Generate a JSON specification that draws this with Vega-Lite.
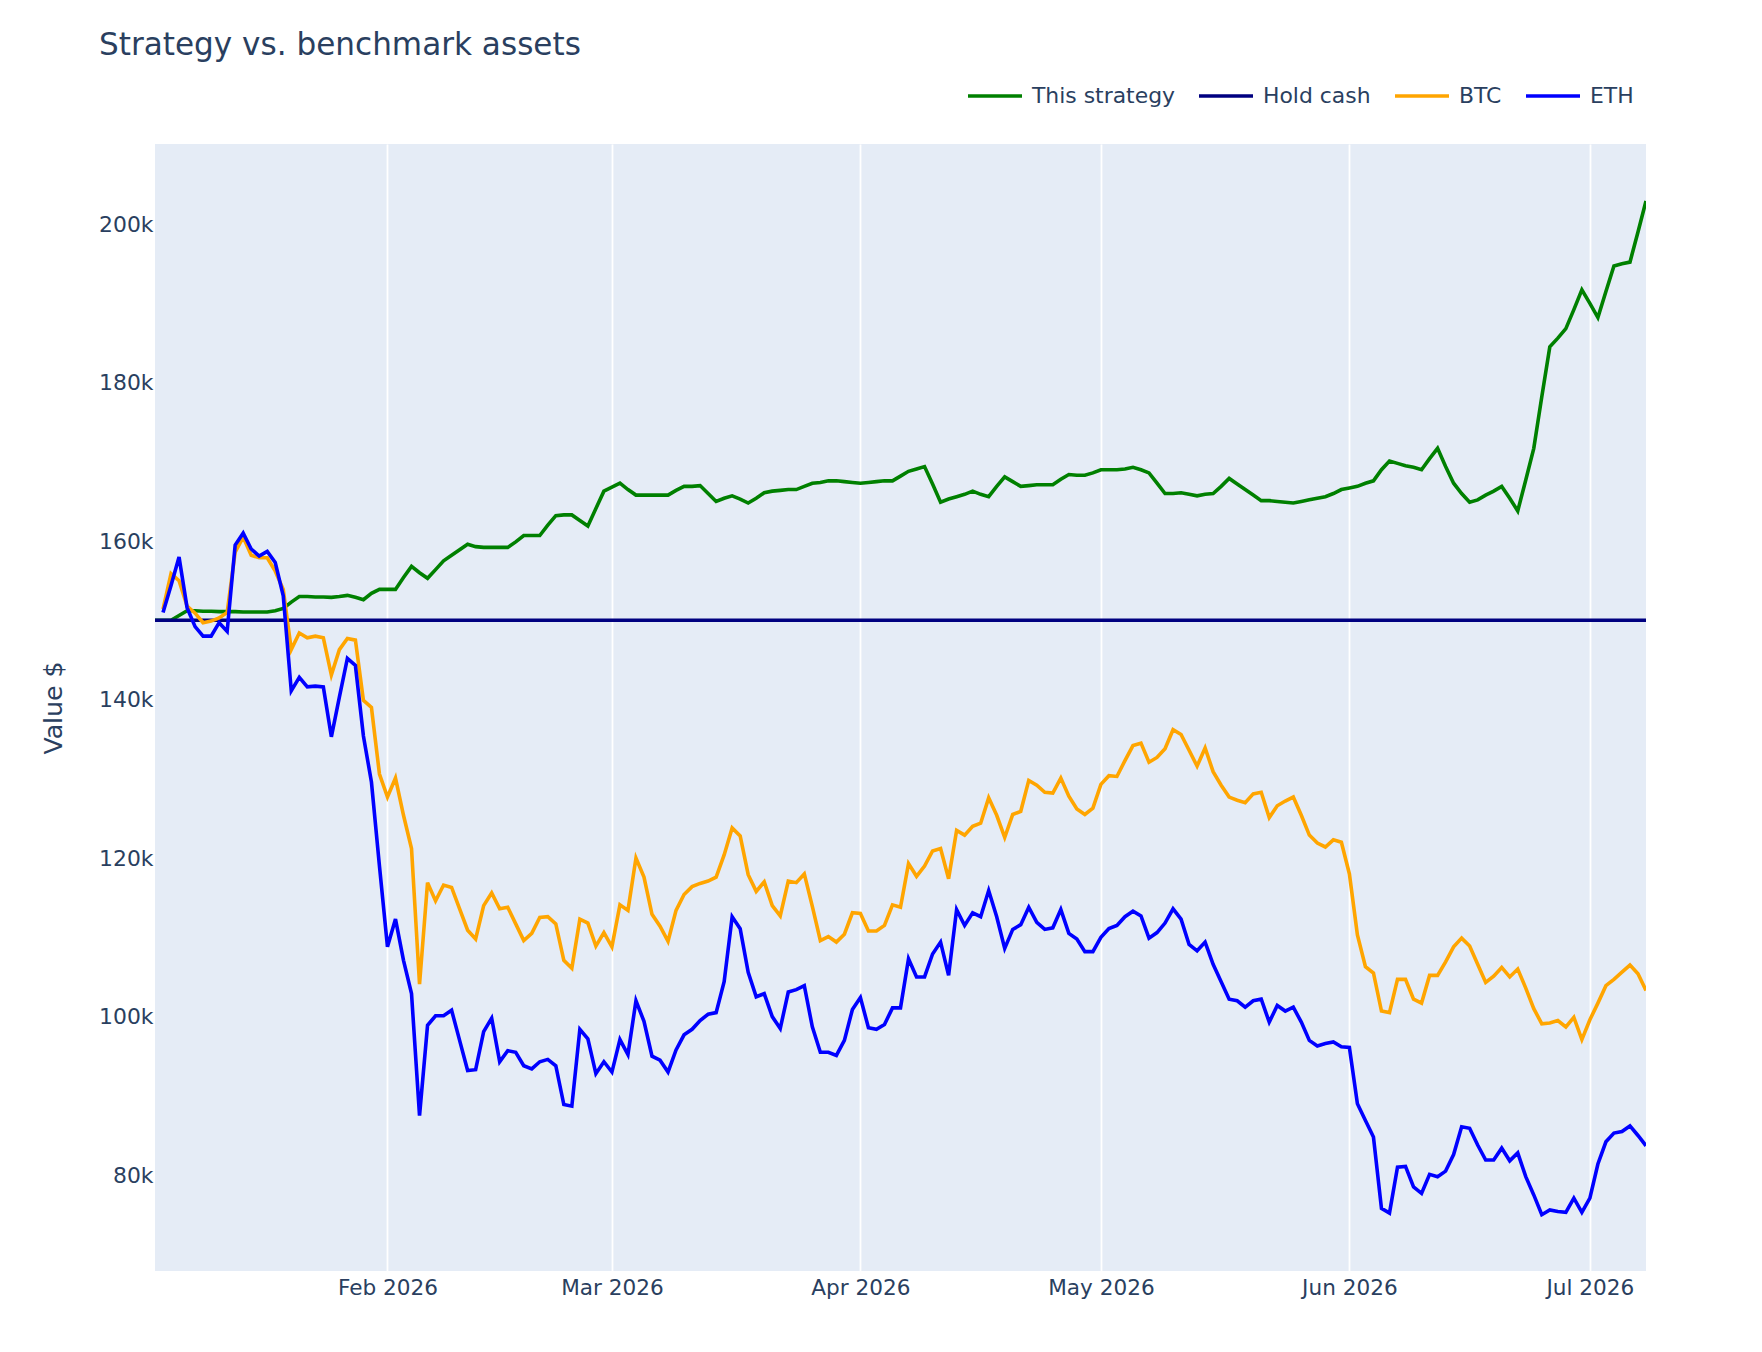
{
  "$schema": "https://vega.github.io/schema/vega-lite/v6.json",
  "width": 1491,
  "height": 1127,
  "autosize": {"type": "none"},
  "padding": {"left": 155, "top": 144, "right": 116, "bottom": 81},
  "background": "white",
  "title": {
    "text": "Strategy vs. benchmark assets",
    "anchor": "start",
    "frame": "group",
    "font": "DejaVu Sans",
    "fontSize": 31.1,
    "fontWeight": "normal",
    "color": "#2a3f5f",
    "dx": -56,
    "offset": 6
  },
  "data": {
    "values": [
      {"date": "2026-01-03", "This strategy": 150000, "Hold cash": 150000},
      {"date": "2026-01-04", "This strategy": 150000, "Hold cash": 150000, "BTC": 151400, "ETH": 151000},
      {"date": "2026-01-05", "This strategy": 150000, "Hold cash": 150000, "BTC": 155900, "ETH": 154400},
      {"date": "2026-01-06", "This strategy": 150600, "Hold cash": 150000, "BTC": 155000, "ETH": 158000},
      {"date": "2026-01-07", "This strategy": 151200, "Hold cash": 150000, "BTC": 151800, "ETH": 151600},
      {"date": "2026-01-08", "This strategy": 151200, "Hold cash": 150000, "BTC": 150900, "ETH": 149200},
      {"date": "2026-01-09", "This strategy": 151150, "Hold cash": 150000, "BTC": 149700, "ETH": 148000},
      {"date": "2026-01-10", "This strategy": 151150, "Hold cash": 150000, "BTC": 149900, "ETH": 148000},
      {"date": "2026-01-11", "This strategy": 151100, "Hold cash": 150000, "BTC": 150300, "ETH": 149700},
      {"date": "2026-01-12", "This strategy": 151100, "Hold cash": 150000, "BTC": 151000, "ETH": 148600},
      {"date": "2026-01-13", "This strategy": 151100, "Hold cash": 150000, "BTC": 158600, "ETH": 159500},
      {"date": "2026-01-14", "This strategy": 151050, "Hold cash": 150000, "BTC": 160500, "ETH": 161000},
      {"date": "2026-01-15", "This strategy": 151050, "Hold cash": 150000, "BTC": 158200, "ETH": 159000},
      {"date": "2026-01-16", "This strategy": 151050, "Hold cash": 150000, "BTC": 157900, "ETH": 158100},
      {"date": "2026-01-17", "This strategy": 151050, "Hold cash": 150000, "BTC": 157900, "ETH": 158700},
      {"date": "2026-01-18", "This strategy": 151200, "Hold cash": 150000, "BTC": 156200, "ETH": 157300},
      {"date": "2026-01-19", "This strategy": 151500, "Hold cash": 150000, "BTC": 153900, "ETH": 153100},
      {"date": "2026-01-20", "This strategy": 152300, "Hold cash": 150000, "BTC": 146300, "ETH": 141100},
      {"date": "2026-01-21", "This strategy": 153000, "Hold cash": 150000, "BTC": 148400, "ETH": 142800},
      {"date": "2026-01-22", "This strategy": 153000, "Hold cash": 150000, "BTC": 147800, "ETH": 141600},
      {"date": "2026-01-23", "This strategy": 152950, "Hold cash": 150000, "BTC": 148000, "ETH": 141700},
      {"date": "2026-01-24", "This strategy": 152950, "Hold cash": 150000, "BTC": 147800, "ETH": 141600},
      {"date": "2026-01-25", "This strategy": 152900, "Hold cash": 150000, "BTC": 143100, "ETH": 135300},
      {"date": "2026-01-26", "This strategy": 153000, "Hold cash": 150000, "BTC": 146300, "ETH": 140300},
      {"date": "2026-01-27", "This strategy": 153150, "Hold cash": 150000, "BTC": 147700, "ETH": 145200},
      {"date": "2026-01-28", "This strategy": 152900, "Hold cash": 150000, "BTC": 147500, "ETH": 144300},
      {"date": "2026-01-29", "This strategy": 152600, "Hold cash": 150000, "BTC": 139900, "ETH": 135400},
      {"date": "2026-01-30", "This strategy": 153400, "Hold cash": 150000, "BTC": 139000, "ETH": 129600},
      {"date": "2026-01-31", "This strategy": 153900, "Hold cash": 150000, "BTC": 130600, "ETH": 119000},
      {"date": "2026-02-01", "This strategy": 153900, "Hold cash": 150000, "BTC": 127700, "ETH": 108800},
      {"date": "2026-02-02", "This strategy": 153900, "Hold cash": 150000, "BTC": 130100, "ETH": 112300},
      {"date": "2026-02-03", "This strategy": 155400, "Hold cash": 150000, "BTC": 125400, "ETH": 107100},
      {"date": "2026-02-04", "This strategy": 156800, "Hold cash": 150000, "BTC": 121200, "ETH": 102900},
      {"date": "2026-02-05", "This strategy": 156000, "Hold cash": 150000, "BTC": 104100, "ETH": 87500},
      {"date": "2026-02-06", "This strategy": 155300, "Hold cash": 150000, "BTC": 116900, "ETH": 98900},
      {"date": "2026-02-07", "This strategy": 156400, "Hold cash": 150000, "BTC": 114600, "ETH": 100100},
      {"date": "2026-02-08", "This strategy": 157500, "Hold cash": 150000, "BTC": 116600, "ETH": 100100},
      {"date": "2026-02-09", "This strategy": 158200, "Hold cash": 150000, "BTC": 116300, "ETH": 100800},
      {"date": "2026-02-10", "This strategy": 158900, "Hold cash": 150000, "BTC": 113600, "ETH": 97000},
      {"date": "2026-02-11", "This strategy": 159600, "Hold cash": 150000, "BTC": 110900, "ETH": 93200},
      {"date": "2026-02-12", "This strategy": 159300, "Hold cash": 150000, "BTC": 109800, "ETH": 93300},
      {"date": "2026-02-13", "This strategy": 159200, "Hold cash": 150000, "BTC": 114000, "ETH": 98100},
      {"date": "2026-02-14", "This strategy": 159200, "Hold cash": 150000, "BTC": 115600, "ETH": 99800},
      {"date": "2026-02-15", "This strategy": 159200, "Hold cash": 150000, "BTC": 113600, "ETH": 94300},
      {"date": "2026-02-16", "This strategy": 159200, "Hold cash": 150000, "BTC": 113800, "ETH": 95700},
      {"date": "2026-02-17", "This strategy": 159900, "Hold cash": 150000, "BTC": 111700, "ETH": 95500},
      {"date": "2026-02-18", "This strategy": 160700, "Hold cash": 150000, "BTC": 109600, "ETH": 93800},
      {"date": "2026-02-19", "This strategy": 160700, "Hold cash": 150000, "BTC": 110500, "ETH": 93400},
      {"date": "2026-02-20", "This strategy": 160700, "Hold cash": 150000, "BTC": 112500, "ETH": 94300},
      {"date": "2026-02-21", "This strategy": 162000, "Hold cash": 150000, "BTC": 112600, "ETH": 94600},
      {"date": "2026-02-22", "This strategy": 163200, "Hold cash": 150000, "BTC": 111700, "ETH": 93800},
      {"date": "2026-02-23", "This strategy": 163300, "Hold cash": 150000, "BTC": 107100, "ETH": 88900},
      {"date": "2026-02-24", "This strategy": 163300, "Hold cash": 150000, "BTC": 106100, "ETH": 88700},
      {"date": "2026-02-25", "This strategy": 162600, "Hold cash": 150000, "BTC": 112300, "ETH": 98400},
      {"date": "2026-02-26", "This strategy": 161900, "Hold cash": 150000, "BTC": 111800, "ETH": 97200},
      {"date": "2026-02-27", "This strategy": 164100, "Hold cash": 150000, "BTC": 108900, "ETH": 92800},
      {"date": "2026-02-28", "This strategy": 166300, "Hold cash": 150000, "BTC": 110600, "ETH": 94300},
      {"date": "2026-03-01", "This strategy": 166800, "Hold cash": 150000, "BTC": 108800, "ETH": 93000},
      {"date": "2026-03-02", "This strategy": 167300, "Hold cash": 150000, "BTC": 114100, "ETH": 97100},
      {"date": "2026-03-03", "This strategy": 166500, "Hold cash": 150000, "BTC": 113400, "ETH": 95200},
      {"date": "2026-03-04", "This strategy": 165800, "Hold cash": 150000, "BTC": 120000, "ETH": 102000},
      {"date": "2026-03-05", "This strategy": 165800, "Hold cash": 150000, "BTC": 117600, "ETH": 99400},
      {"date": "2026-03-06", "This strategy": 165800, "Hold cash": 150000, "BTC": 112900, "ETH": 95000},
      {"date": "2026-03-07", "This strategy": 165800, "Hold cash": 150000, "BTC": 111400, "ETH": 94500},
      {"date": "2026-03-08", "This strategy": 165800, "Hold cash": 150000, "BTC": 109500, "ETH": 93000},
      {"date": "2026-03-09", "This strategy": 166400, "Hold cash": 150000, "BTC": 113400, "ETH": 95800},
      {"date": "2026-03-10", "This strategy": 166900, "Hold cash": 150000, "BTC": 115400, "ETH": 97700},
      {"date": "2026-03-11", "This strategy": 166900, "Hold cash": 150000, "BTC": 116400, "ETH": 98400},
      {"date": "2026-03-12", "This strategy": 167000, "Hold cash": 150000, "BTC": 116800, "ETH": 99500},
      {"date": "2026-03-13", "This strategy": 166000, "Hold cash": 150000, "BTC": 117100, "ETH": 100300},
      {"date": "2026-03-14", "This strategy": 165000, "Hold cash": 150000, "BTC": 117600, "ETH": 100500},
      {"date": "2026-03-15", "This strategy": 165400, "Hold cash": 150000, "BTC": 120400, "ETH": 104400},
      {"date": "2026-03-16", "This strategy": 165700, "Hold cash": 150000, "BTC": 123800, "ETH": 112600},
      {"date": "2026-03-17", "This strategy": 165300, "Hold cash": 150000, "BTC": 122800, "ETH": 111100},
      {"date": "2026-03-18", "This strategy": 164800, "Hold cash": 150000, "BTC": 117900, "ETH": 105600},
      {"date": "2026-03-19", "This strategy": 165400, "Hold cash": 150000, "BTC": 115800, "ETH": 102500},
      {"date": "2026-03-20", "This strategy": 166100, "Hold cash": 150000, "BTC": 117000, "ETH": 102900},
      {"date": "2026-03-21", "This strategy": 166300, "Hold cash": 150000, "BTC": 114000, "ETH": 100000},
      {"date": "2026-03-22", "This strategy": 166400, "Hold cash": 150000, "BTC": 112700, "ETH": 98500},
      {"date": "2026-03-23", "This strategy": 166500, "Hold cash": 150000, "BTC": 117100, "ETH": 103100},
      {"date": "2026-03-24", "This strategy": 166500, "Hold cash": 150000, "BTC": 116900, "ETH": 103400},
      {"date": "2026-03-25", "This strategy": 166900, "Hold cash": 150000, "BTC": 118000, "ETH": 103900},
      {"date": "2026-03-26", "This strategy": 167300, "Hold cash": 150000, "BTC": 113900, "ETH": 98700},
      {"date": "2026-03-27", "This strategy": 167400, "Hold cash": 150000, "BTC": 109600, "ETH": 95500},
      {"date": "2026-03-28", "This strategy": 167600, "Hold cash": 150000, "BTC": 110100, "ETH": 95500},
      {"date": "2026-03-29", "This strategy": 167600, "Hold cash": 150000, "BTC": 109400, "ETH": 95100},
      {"date": "2026-03-30", "This strategy": 167500, "Hold cash": 150000, "BTC": 110400, "ETH": 97000},
      {"date": "2026-03-31", "This strategy": 167400, "Hold cash": 150000, "BTC": 113100, "ETH": 100900},
      {"date": "2026-04-01", "This strategy": 167300, "Hold cash": 150000, "BTC": 113000, "ETH": 102400},
      {"date": "2026-04-02", "This strategy": 167400, "Hold cash": 150000, "BTC": 110800, "ETH": 98600},
      {"date": "2026-04-03", "This strategy": 167500, "Hold cash": 150000, "BTC": 110800, "ETH": 98400},
      {"date": "2026-04-04", "This strategy": 167600, "Hold cash": 150000, "BTC": 111500, "ETH": 99000},
      {"date": "2026-04-05", "This strategy": 167600, "Hold cash": 150000, "BTC": 114100, "ETH": 101100},
      {"date": "2026-04-06", "This strategy": 168200, "Hold cash": 150000, "BTC": 113800, "ETH": 101100},
      {"date": "2026-04-07", "This strategy": 168800, "Hold cash": 150000, "BTC": 119300, "ETH": 107300},
      {"date": "2026-04-08", "This strategy": 169100, "Hold cash": 150000, "BTC": 117700, "ETH": 105000},
      {"date": "2026-04-09", "This strategy": 169400, "Hold cash": 150000, "BTC": 119000, "ETH": 105000},
      {"date": "2026-04-10", "This strategy": 167200, "Hold cash": 150000, "BTC": 120900, "ETH": 107900},
      {"date": "2026-04-11", "This strategy": 164900, "Hold cash": 150000, "BTC": 121200, "ETH": 109400},
      {"date": "2026-04-12", "This strategy": 165300, "Hold cash": 150000, "BTC": 117400, "ETH": 105200},
      {"date": "2026-04-13", "This strategy": 165600, "Hold cash": 150000, "BTC": 123500, "ETH": 113500},
      {"date": "2026-04-14", "This strategy": 165900, "Hold cash": 150000, "BTC": 122900, "ETH": 111500},
      {"date": "2026-04-15", "This strategy": 166300, "Hold cash": 150000, "BTC": 124000, "ETH": 113100},
      {"date": "2026-04-16", "This strategy": 165900, "Hold cash": 150000, "BTC": 124400, "ETH": 112600},
      {"date": "2026-04-17", "This strategy": 165600, "Hold cash": 150000, "BTC": 127600, "ETH": 115900},
      {"date": "2026-04-18", "This strategy": 166900, "Hold cash": 150000, "BTC": 125400, "ETH": 112600},
      {"date": "2026-04-19", "This strategy": 168100, "Hold cash": 150000, "BTC": 122600, "ETH": 108600},
      {"date": "2026-04-20", "This strategy": 167500, "Hold cash": 150000, "BTC": 125500, "ETH": 111000},
      {"date": "2026-04-21", "This strategy": 166900, "Hold cash": 150000, "BTC": 125900, "ETH": 111600},
      {"date": "2026-04-22", "This strategy": 167000, "Hold cash": 150000, "BTC": 129800, "ETH": 113800},
      {"date": "2026-04-23", "This strategy": 167100, "Hold cash": 150000, "BTC": 129200, "ETH": 111900},
      {"date": "2026-04-24", "This strategy": 167100, "Hold cash": 150000, "BTC": 128300, "ETH": 111000},
      {"date": "2026-04-25", "This strategy": 167100, "Hold cash": 150000, "BTC": 128200, "ETH": 111200},
      {"date": "2026-04-26", "This strategy": 167800, "Hold cash": 150000, "BTC": 130100, "ETH": 113500},
      {"date": "2026-04-27", "This strategy": 168400, "Hold cash": 150000, "BTC": 127800, "ETH": 110500},
      {"date": "2026-04-28", "This strategy": 168300, "Hold cash": 150000, "BTC": 126200, "ETH": 109800},
      {"date": "2026-04-29", "This strategy": 168300, "Hold cash": 150000, "BTC": 125500, "ETH": 108200},
      {"date": "2026-04-30", "This strategy": 168600, "Hold cash": 150000, "BTC": 126300, "ETH": 108200},
      {"date": "2026-05-01", "This strategy": 169000, "Hold cash": 150000, "BTC": 129300, "ETH": 110000},
      {"date": "2026-05-02", "This strategy": 169000, "Hold cash": 150000, "BTC": 130400, "ETH": 111100},
      {"date": "2026-05-03", "This strategy": 169000, "Hold cash": 150000, "BTC": 130300, "ETH": 111500},
      {"date": "2026-05-04", "This strategy": 169100, "Hold cash": 150000, "BTC": 132300, "ETH": 112600},
      {"date": "2026-05-05", "This strategy": 169300, "Hold cash": 150000, "BTC": 134200, "ETH": 113300},
      {"date": "2026-05-06", "This strategy": 169000, "Hold cash": 150000, "BTC": 134500, "ETH": 112700},
      {"date": "2026-05-07", "This strategy": 168600, "Hold cash": 150000, "BTC": 132100, "ETH": 109900},
      {"date": "2026-05-08", "This strategy": 167300, "Hold cash": 150000, "BTC": 132700, "ETH": 110600},
      {"date": "2026-05-09", "This strategy": 166000, "Hold cash": 150000, "BTC": 133800, "ETH": 111800},
      {"date": "2026-05-10", "This strategy": 166000, "Hold cash": 150000, "BTC": 136200, "ETH": 113600},
      {"date": "2026-05-11", "This strategy": 166100, "Hold cash": 150000, "BTC": 135600, "ETH": 112300},
      {"date": "2026-05-12", "This strategy": 165900, "Hold cash": 150000, "BTC": 133600, "ETH": 109100},
      {"date": "2026-05-13", "This strategy": 165700, "Hold cash": 150000, "BTC": 131600, "ETH": 108300},
      {"date": "2026-05-14", "This strategy": 165900, "Hold cash": 150000, "BTC": 133900, "ETH": 109400},
      {"date": "2026-05-15", "This strategy": 166000, "Hold cash": 150000, "BTC": 130900, "ETH": 106600},
      {"date": "2026-05-16", "This strategy": 166900, "Hold cash": 150000, "BTC": 129200, "ETH": 104400},
      {"date": "2026-05-17", "This strategy": 167900, "Hold cash": 150000, "BTC": 127700, "ETH": 102200},
      {"date": "2026-05-18", "This strategy": 167200, "Hold cash": 150000, "BTC": 127300, "ETH": 102000},
      {"date": "2026-05-19", "This strategy": 166500, "Hold cash": 150000, "BTC": 127000, "ETH": 101200},
      {"date": "2026-05-20", "This strategy": 165800, "Hold cash": 150000, "BTC": 128100, "ETH": 102000},
      {"date": "2026-05-21", "This strategy": 165100, "Hold cash": 150000, "BTC": 128300, "ETH": 102200},
      {"date": "2026-05-22", "This strategy": 165100, "Hold cash": 150000, "BTC": 125100, "ETH": 99300},
      {"date": "2026-05-23", "This strategy": 165000, "Hold cash": 150000, "BTC": 126600, "ETH": 101400},
      {"date": "2026-05-24", "This strategy": 164900, "Hold cash": 150000, "BTC": 127200, "ETH": 100700},
      {"date": "2026-05-25", "This strategy": 164800, "Hold cash": 150000, "BTC": 127700, "ETH": 101200},
      {"date": "2026-05-26", "This strategy": 165000, "Hold cash": 150000, "BTC": 125400, "ETH": 99300},
      {"date": "2026-05-27", "This strategy": 165200, "Hold cash": 150000, "BTC": 122900, "ETH": 97000},
      {"date": "2026-05-28", "This strategy": 165400, "Hold cash": 150000, "BTC": 121900, "ETH": 96300},
      {"date": "2026-05-29", "This strategy": 165600, "Hold cash": 150000, "BTC": 121400, "ETH": 96600},
      {"date": "2026-05-30", "This strategy": 166000, "Hold cash": 150000, "BTC": 122300, "ETH": 96800},
      {"date": "2026-05-31", "This strategy": 166500, "Hold cash": 150000, "BTC": 122000, "ETH": 96200},
      {"date": "2026-06-01", "This strategy": 166700, "Hold cash": 150000, "BTC": 118000, "ETH": 96100},
      {"date": "2026-06-02", "This strategy": 166900, "Hold cash": 150000, "BTC": 110300, "ETH": 89000},
      {"date": "2026-06-03", "This strategy": 167300, "Hold cash": 150000, "BTC": 106300, "ETH": 86900},
      {"date": "2026-06-04", "This strategy": 167600, "Hold cash": 150000, "BTC": 105500, "ETH": 84800},
      {"date": "2026-06-05", "This strategy": 169000, "Hold cash": 150000, "BTC": 100700, "ETH": 75800},
      {"date": "2026-06-06", "This strategy": 170100, "Hold cash": 150000, "BTC": 100500, "ETH": 75200},
      {"date": "2026-06-07", "This strategy": 169800, "Hold cash": 150000, "BTC": 104700, "ETH": 81000},
      {"date": "2026-06-08", "This strategy": 169500, "Hold cash": 150000, "BTC": 104700, "ETH": 81100},
      {"date": "2026-06-09", "This strategy": 169300, "Hold cash": 150000, "BTC": 102200, "ETH": 78500},
      {"date": "2026-06-10", "This strategy": 169000, "Hold cash": 150000, "BTC": 101700, "ETH": 77700},
      {"date": "2026-06-11", "This strategy": 170400, "Hold cash": 150000, "BTC": 105200, "ETH": 80100},
      {"date": "2026-06-12", "This strategy": 171700, "Hold cash": 150000, "BTC": 105200, "ETH": 79800},
      {"date": "2026-06-13", "This strategy": 169400, "Hold cash": 150000, "BTC": 106900, "ETH": 80500},
      {"date": "2026-06-14", "This strategy": 167300, "Hold cash": 150000, "BTC": 108800, "ETH": 82600},
      {"date": "2026-06-15", "This strategy": 166000, "Hold cash": 150000, "BTC": 109900, "ETH": 86100},
      {"date": "2026-06-16", "This strategy": 164900, "Hold cash": 150000, "BTC": 108900, "ETH": 85900},
      {"date": "2026-06-17", "This strategy": 165200, "Hold cash": 150000, "BTC": 106600, "ETH": 83800},
      {"date": "2026-06-18", "This strategy": 165800, "Hold cash": 150000, "BTC": 104300, "ETH": 81900},
      {"date": "2026-06-19", "This strategy": 166300, "Hold cash": 150000, "BTC": 105100, "ETH": 81900},
      {"date": "2026-06-20", "This strategy": 166900, "Hold cash": 150000, "BTC": 106200, "ETH": 83400},
      {"date": "2026-06-21", "This strategy": 165400, "Hold cash": 150000, "BTC": 105000, "ETH": 81800},
      {"date": "2026-06-22", "This strategy": 163800, "Hold cash": 150000, "BTC": 106000, "ETH": 82800},
      {"date": "2026-06-23", "This strategy": 167700, "Hold cash": 150000, "BTC": 103600, "ETH": 79800},
      {"date": "2026-06-24", "This strategy": 171700, "Hold cash": 150000, "BTC": 101000, "ETH": 77500},
      {"date": "2026-06-25", "This strategy": 178200, "Hold cash": 150000, "BTC": 99100, "ETH": 75000},
      {"date": "2026-06-26", "This strategy": 184500, "Hold cash": 150000, "BTC": 99200, "ETH": 75600},
      {"date": "2026-06-27", "This strategy": 185600, "Hold cash": 150000, "BTC": 99500, "ETH": 75400},
      {"date": "2026-06-28", "This strategy": 186800, "Hold cash": 150000, "BTC": 98700, "ETH": 75300},
      {"date": "2026-06-29", "This strategy": 189200, "Hold cash": 150000, "BTC": 99900, "ETH": 77100},
      {"date": "2026-06-30", "This strategy": 191700, "Hold cash": 150000, "BTC": 97100, "ETH": 75300},
      {"date": "2026-07-01", "This strategy": 190000, "Hold cash": 150000, "BTC": 99600, "ETH": 77100},
      {"date": "2026-07-02", "This strategy": 188200, "Hold cash": 150000, "BTC": 101700, "ETH": 81400},
      {"date": "2026-07-03", "This strategy": 191500, "Hold cash": 150000, "BTC": 103900, "ETH": 84200},
      {"date": "2026-07-04", "This strategy": 194700, "Hold cash": 150000, "BTC": 104700, "ETH": 85300},
      {"date": "2026-07-05", "This strategy": 195000, "Hold cash": 150000, "BTC": 105600, "ETH": 85500},
      {"date": "2026-07-06", "This strategy": 195200, "Hold cash": 150000, "BTC": 106500, "ETH": 86200},
      {"date": "2026-07-07", "This strategy": 199000, "Hold cash": 150000, "BTC": 105400, "ETH": 85000},
      {"date": "2026-07-08", "This strategy": 202900, "Hold cash": 150000, "BTC": 103300, "ETH": 83700}
    ]
  },
  "transform": [
    {"fold": ["This strategy", "Hold cash", "BTC", "ETH"], "as": ["series", "value"]}
  ],
  "mark": {"type": "line", "strokeWidth": 3.6, "clip": true},
  "encoding": {
    "x": {
      "field": "date",
      "type": "temporal",
      "scale": {
        "domain": ["2026-01-03", "2026-07-08"],
        "nice": false
      },
      "axis": {
        "title": null,
        "format": "%b %Y",
        "tickCount": {"interval": "month", "step": 1},
        "grid": true,
        "gridColor": "white",
        "gridWidth": 1.8,
        "domain": false,
        "ticks": false,
        "labelFlush": false,
        "labelPadding": 6,
        "labelFont": "DejaVu Sans",
        "labelFontSize": 21.6,
        "labelColor": "#2a3f5f"
      }
    },
    "y": {
      "field": "value",
      "type": "quantitative",
      "scale": {"domain": [67900, 210100], "nice": false, "zero": false},
      "axis": {
        "title": "Value $",
        "values": [80000, 100000, 120000, 140000, 160000, 180000, 200000],
        "format": "~s",
        "grid": false,
        "domain": false,
        "ticks": false,
        "labelPadding": 2,
        "labelFont": "DejaVu Sans",
        "labelFontSize": 21.9,
        "labelColor": "#2a3f5f",
        "titleFont": "DejaVu Sans",
        "titleFontSize": 25.2,
        "titleFontWeight": "normal",
        "titleColor": "#2a3f5f",
        "titleX": -102,
        "titleY": 563.5,
        "titleAngle": -90,
        "titleAlign": "center",
        "titleBaseline": "middle"
      }
    },
    "color": {
      "field": "series",
      "type": "nominal",
      "scale": {
        "domain": ["This strategy", "Hold cash", "BTC", "ETH"],
        "range": ["green", "navy", "orange", "blue"]
      },
      "legend": {
        "title": null,
        "orient": "none",
        "legendX": 811,
        "legendY": -77,
        "direction": "horizontal",
        "symbolType": "stroke",
        "symbolSize": 2916,
        "symbolStrokeWidth": 3.6,
        "labelFont": "DejaVu Sans",
        "labelFontSize": 21.9,
        "labelColor": "#2a3f5f",
        "labelOffset": 8,
        "columnPadding": 16,
        "padding": 0
      }
    }
  },
  "config": {
    "view": {"fill": "#E5ECF6", "stroke": null},
    "font": "DejaVu Sans"
  }
}
